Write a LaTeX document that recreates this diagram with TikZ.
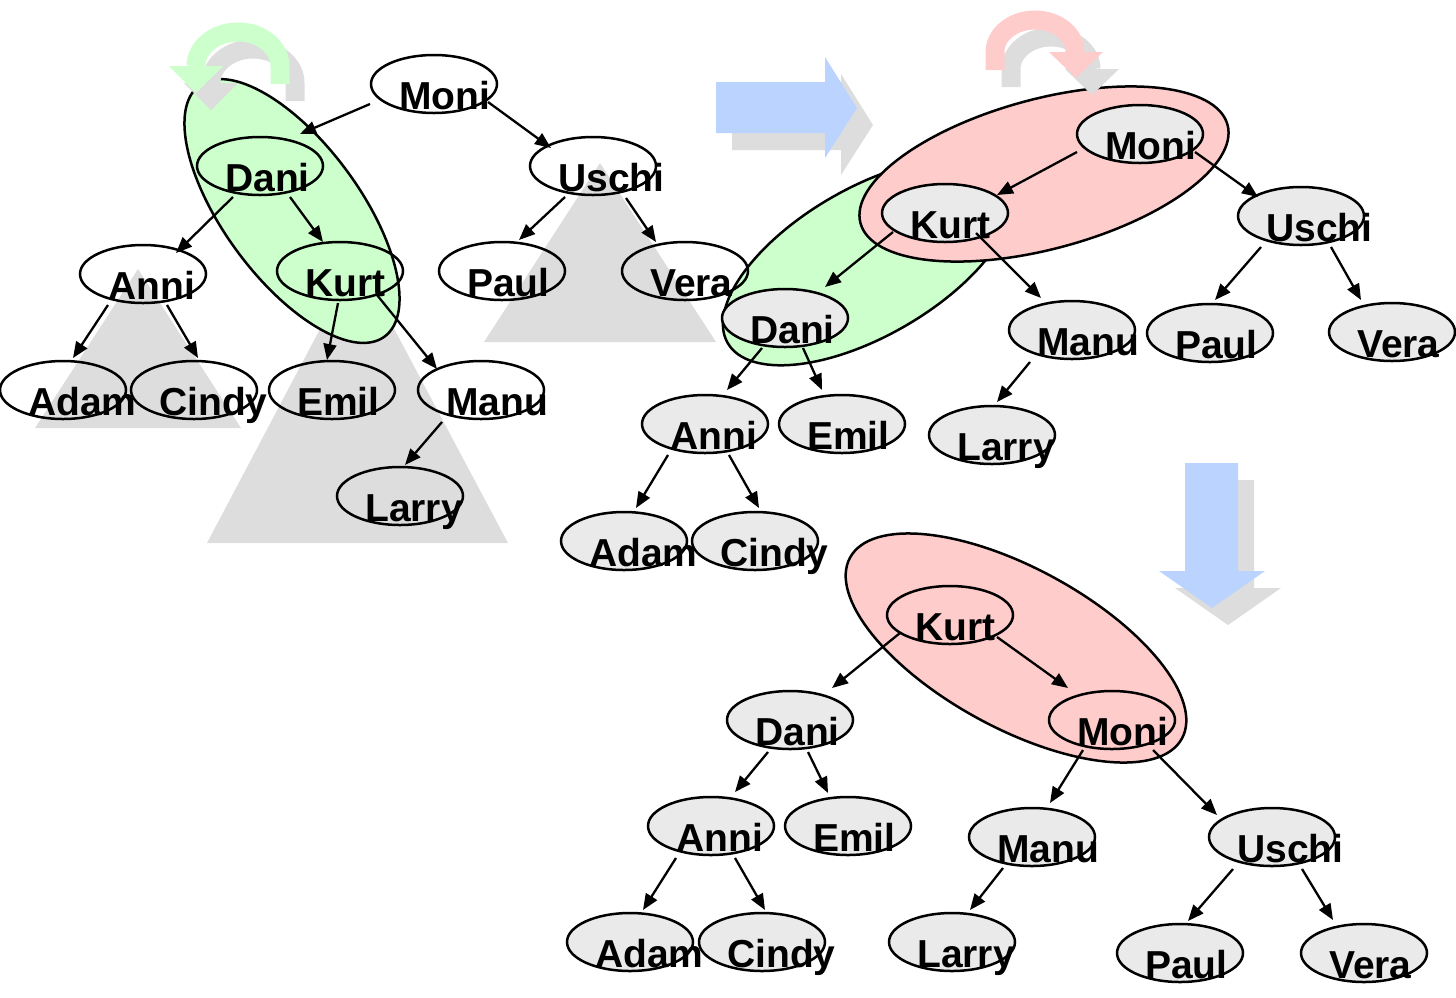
\documentclass[tikz,border=0pt]{standalone}
\usepackage{fontspec}
\setmainfont{Liberation Sans}
\usetikzlibrary{shapes.geometric,arrows.meta}
\definecolor{grn}{HTML}{CCFFCC}
\definecolor{pnk}{HTML}{FFCCCC}
\definecolor{tri}{HTML}{DDDDDD}
\definecolor{shd}{HTML}{DDDDDD}
\definecolor{nfill}{HTML}{EAEAEA}
\definecolor{blu}{RGB}{187,212,255}
\newcommand\tlab[2]{\node[tl] at ([shift={(-35,25)}]#1.center) {#2};}
\begin{document}
\begin{tikzpicture}[x=1pt,y=-1pt,
 tn/.style={ellipse,draw,line width=2.5pt,minimum width=126pt,minimum height=58pt,inner sep=0pt},
 gn/.style={tn,fill=nfill},
 tl/.style={anchor=base west,inner sep=0pt,font=\fontsize{39}{39}\selectfont\bfseries},
 con/.style={line width=2.3pt,-{Triangle[length=16pt,width=13pt]}},
 region/.style={draw,line width=2.5pt}]
\useasboundingbox (0,0) rectangle (1456,997);

% ---------- tree 1 background ----------
\fill[tri] (138,269) -- (35,428) -- (241,428) -- cycle;
\fill[tri] (357,259) -- (207,543) -- (508,543) -- cycle;
\fill[tri] (600,163) -- (484,342) -- (716,342) -- cycle;
\filldraw[fill=grn,region,rotate around={-53.6:(292,211)}] (292,211) ellipse [x radius=156pt,y radius=68pt];

% rotation arrow (green)
\begin{scope}[shift={(15,17)}]
 \draw[line width=19pt,shd] (280,84) -- (280,66) arc[start angle=0,end angle=180,x radius=42pt,y radius=34pt];
 \fill[shd] (169,66) -- (223,66) -- (196,93) -- cycle;
\end{scope}
\draw[line width=19pt,grn] (280,84) -- (280,66) arc[start angle=0,end angle=180,x radius=42pt,y radius=34pt];
\fill[grn] (169,66) -- (223,66) -- (196,93) -- cycle;

% ---------- tree 2 background ----------
\filldraw[fill=grn,region,rotate around={30:(868,262)}] (868,262) ellipse [x radius=162pt,y radius=74pt];
\filldraw[fill=pnk,region,rotate around={15:(1044,174)}] (1044,174) ellipse [x radius=190pt,y radius=75pt];

% rotation arrow (pink)
\begin{scope}[shift={(16,17)}]
 \draw[line width=19pt,shd] (995,70) -- (995,52) arc[start angle=180,end angle=0,x radius=40pt,y radius=32pt];
 \fill[shd] (1049,52) -- (1103,52) -- (1076,78) -- cycle;
\end{scope}
\draw[line width=19pt,pnk] (995,70) -- (995,52) arc[start angle=180,end angle=0,x radius=40pt,y radius=32pt];
\fill[pnk] (1049,52) -- (1103,52) -- (1076,78) -- cycle;

% ---------- tree 3 background ----------
\filldraw[fill=pnk,region,rotate around={-28.6:(1016,648)}] (1016,648) ellipse [x radius=189pt,y radius=80pt];

% ---------- big arrows ----------
\begin{scope}[shift={(16,17)}]
 \fill[shd] (716,82) -- (825,82) -- (825,57) -- (857,108) -- (825,158) -- (825,133) -- (716,133) -- cycle;
\end{scope}
\fill[blu] (716,82) -- (825,82) -- (825,57) -- (857,108) -- (825,158) -- (825,133) -- (716,133) -- cycle;
\begin{scope}[shift={(16,17)}]
 \fill[shd] (1185,463) -- (1238,463) -- (1238,571) -- (1265,571) -- (1212,608) -- (1159,571) -- (1185,571) -- cycle;
\end{scope}
\fill[blu] (1185,463) -- (1238,463) -- (1238,571) -- (1265,571) -- (1212,608) -- (1159,571) -- (1185,571) -- cycle;

% ---------- tree 1 nodes ----------
\node[tn] (m1) at (434,84) {};
\node[tn] (d1) at (260,166) {};
\node[tn] (k1) at (340,271) {};
\node[tn] (a1) at (143,274) {};
\node[tn] (u1) at (593,166) {};
\node[tn] (p1) at (502,271) {};
\node[tn] (v1) at (685,271) {};
\node[tn] (ad1) at (63,390) {};
\node[tn] (c1) at (194,390) {};
\node[tn] (e1) at (332,390) {};
\node[tn] (mn1) at (481,390) {};
\node[tn] (l1) at (400,496) {};

% ---------- tree 2 nodes ----------
\node[gn] (m2) at (1140,134) {};
\node[gn] (k2) at (945,213) {};
\node[gn] (u2) at (1301,216) {};
\node[gn] (d2) at (785,318) {};
\node[gn] (mn2) at (1072,330) {};
\node[gn] (p2) at (1210,333) {};
\node[gn] (v2) at (1392,332) {};
\node[gn] (a2) at (705,424) {};
\node[gn] (e2) at (842,424) {};
\node[gn] (l2) at (992,435) {};
\node[gn] (ad2) at (624,541) {};
\node[gn] (c2) at (755,541) {};

% ---------- tree 3 nodes ----------
\node[tn] (k3) at (950,615) {};
\node[tn] (m3) at (1112,720) {};
\node[gn] (d3) at (790,720) {};
\node[gn] (a3) at (711,826) {};
\node[gn] (e3) at (848,826) {};
\node[gn] (mn3) at (1032,837) {};
\node[gn] (u3) at (1272,837) {};
\node[gn] (ad3) at (630,942) {};
\node[gn] (c3) at (762,942) {};
\node[gn] (l3) at (952,942) {};
\node[gn] (p3) at (1180,953) {};
\node[gn] (v3) at (1364,953) {};

% ---------- connectors tree 1 ----------
\draw[con] ([shift={(370-434,104-84)}]m1.center) -- ([shift={(300-260,134-166)}]d1.center);
\draw[con] ([shift={(488-434,102-84)}]m1.center) -- ([shift={(551-593,148-166)}]u1.center);
\draw[con] ([shift={(233-260,197-166)}]d1.center) -- ([shift={(176-143,253-274)}]a1.center);
\draw[con] ([shift={(290-260,197-166)}]d1.center) -- ([shift={(323-340,242-271)}]k1.center);
\draw[con] ([shift={(108-143,305-274)}]a1.center) -- ([shift={(73-63,358-390)}]ad1.center);
\draw[con] ([shift={(167-143,305-274)}]a1.center) -- ([shift={(198-194,358-390)}]c1.center);
\draw[con] ([shift={(338-340,303-271)}]k1.center) -- ([shift={(327-332,360-390)}]e1.center);
\draw[con] ([shift={(377-340,295-271)}]k1.center) -- ([shift={(437-481,369-390)}]mn1.center);
\draw[con] ([shift={(442-481,422-390)}]mn1.center) -- ([shift={(405-400,465-496)}]l1.center);
\draw[con] ([shift={(565-593,197-166)}]u1.center) -- ([shift={(519-502,240-271)}]p1.center);
\draw[con] ([shift={(626-593,198-166)}]u1.center) -- ([shift={(656-685,242-271)}]v1.center);

% ---------- connectors tree 2 ----------
\draw[con] ([shift={(1077-1140,152-134)}]m2.center) -- ([shift={(997-945,195-213)}]k2.center);
\draw[con] ([shift={(1195-1140,152-134)}]m2.center) -- ([shift={(1258-1301,197-216)}]u2.center);
\draw[con] ([shift={(893-945,232-213)}]k2.center) -- ([shift={(825-785,287-318)}]d2.center);
\draw[con] ([shift={(976-945,233-213)}]k2.center) -- ([shift={(1041-1072,298-330)}]mn2.center);
\draw[con] ([shift={(762-785,348-318)}]d2.center) -- ([shift={(727-705,390-424)}]a2.center);
\draw[con] ([shift={(803-785,348-318)}]d2.center) -- ([shift={(822-842,390-424)}]e2.center);
\draw[con] ([shift={(668-705,455-424)}]a2.center) -- ([shift={(636-624,508-541)}]ad2.center);
\draw[con] ([shift={(729-705,455-424)}]a2.center) -- ([shift={(759-755,508-541)}]c2.center);
\draw[con] ([shift={(1030-1072,362-330)}]mn2.center) -- ([shift={(997-992,402-435)}]l2.center);
\draw[con] ([shift={(1261-1301,247-216)}]u2.center) -- ([shift={(1215-1210,300-333)}]p2.center);
\draw[con] ([shift={(1331-1301,247-216)}]u2.center) -- ([shift={(1361-1392,300-332)}]v2.center);

% ---------- connectors tree 3 ----------
\draw[con] ([shift={(900-950,633-615)}]k3.center) -- ([shift={(832-790,688-720)}]d3.center);
\draw[con] ([shift={(997-950,637-615)}]k3.center) -- ([shift={(1068-1112,688-720)}]m3.center);
\draw[con] ([shift={(1083-1112,750-720)}]m3.center) -- ([shift={(1050-1032,803-837)}]mn3.center);
\draw[con] ([shift={(1153-1112,750-720)}]m3.center) -- ([shift={(1217-1272,815-837)}]u3.center);
\draw[con] ([shift={(768-790,752-720)}]d3.center) -- ([shift={(735-711,792-826)}]a3.center);
\draw[con] ([shift={(808-790,752-720)}]d3.center) -- ([shift={(828-848,793-826)}]e3.center);
\draw[con] ([shift={(676-711,858-826)}]a3.center) -- ([shift={(643-630,910-942)}]ad3.center);
\draw[con] ([shift={(735-711,858-826)}]a3.center) -- ([shift={(765-762,910-942)}]c3.center);
\draw[con] ([shift={(1003-1032,868-837)}]mn3.center) -- ([shift={(970-952,910-942)}]l3.center);
\draw[con] ([shift={(1233-1272,869-837)}]u3.center) -- ([shift={(1188-1180,921-953)}]p3.center);
\draw[con] ([shift={(1302-1272,869-837)}]u3.center) -- ([shift={(1333-1364,920-953)}]v3.center);

% ---------- labels ----------
\tlab{m1}{Moni}\tlab{d1}{Dani}\tlab{k1}{Kurt}\tlab{a1}{Anni}\tlab{u1}{Uschi}
\tlab{p1}{Paul}\tlab{v1}{Vera}\tlab{ad1}{Adam}\tlab{c1}{Cindy}\tlab{e1}{Emil}
\tlab{mn1}{Manu}\tlab{l1}{Larry}
\tlab{m2}{Moni}\tlab{k2}{Kurt}\tlab{u2}{Uschi}\tlab{d2}{Dani}\tlab{mn2}{Manu}
\tlab{p2}{Paul}\tlab{v2}{Vera}\tlab{a2}{Anni}\tlab{e2}{Emil}\tlab{l2}{Larry}
\tlab{ad2}{Adam}\tlab{c2}{Cindy}
\tlab{k3}{Kurt}\tlab{m3}{Moni}\tlab{d3}{Dani}\tlab{a3}{Anni}\tlab{e3}{Emil}
\tlab{mn3}{Manu}\tlab{u3}{Uschi}\tlab{ad3}{Adam}\tlab{c3}{Cindy}\tlab{l3}{Larry}
\tlab{p3}{Paul}\tlab{v3}{Vera}
\end{tikzpicture}
\end{document}
